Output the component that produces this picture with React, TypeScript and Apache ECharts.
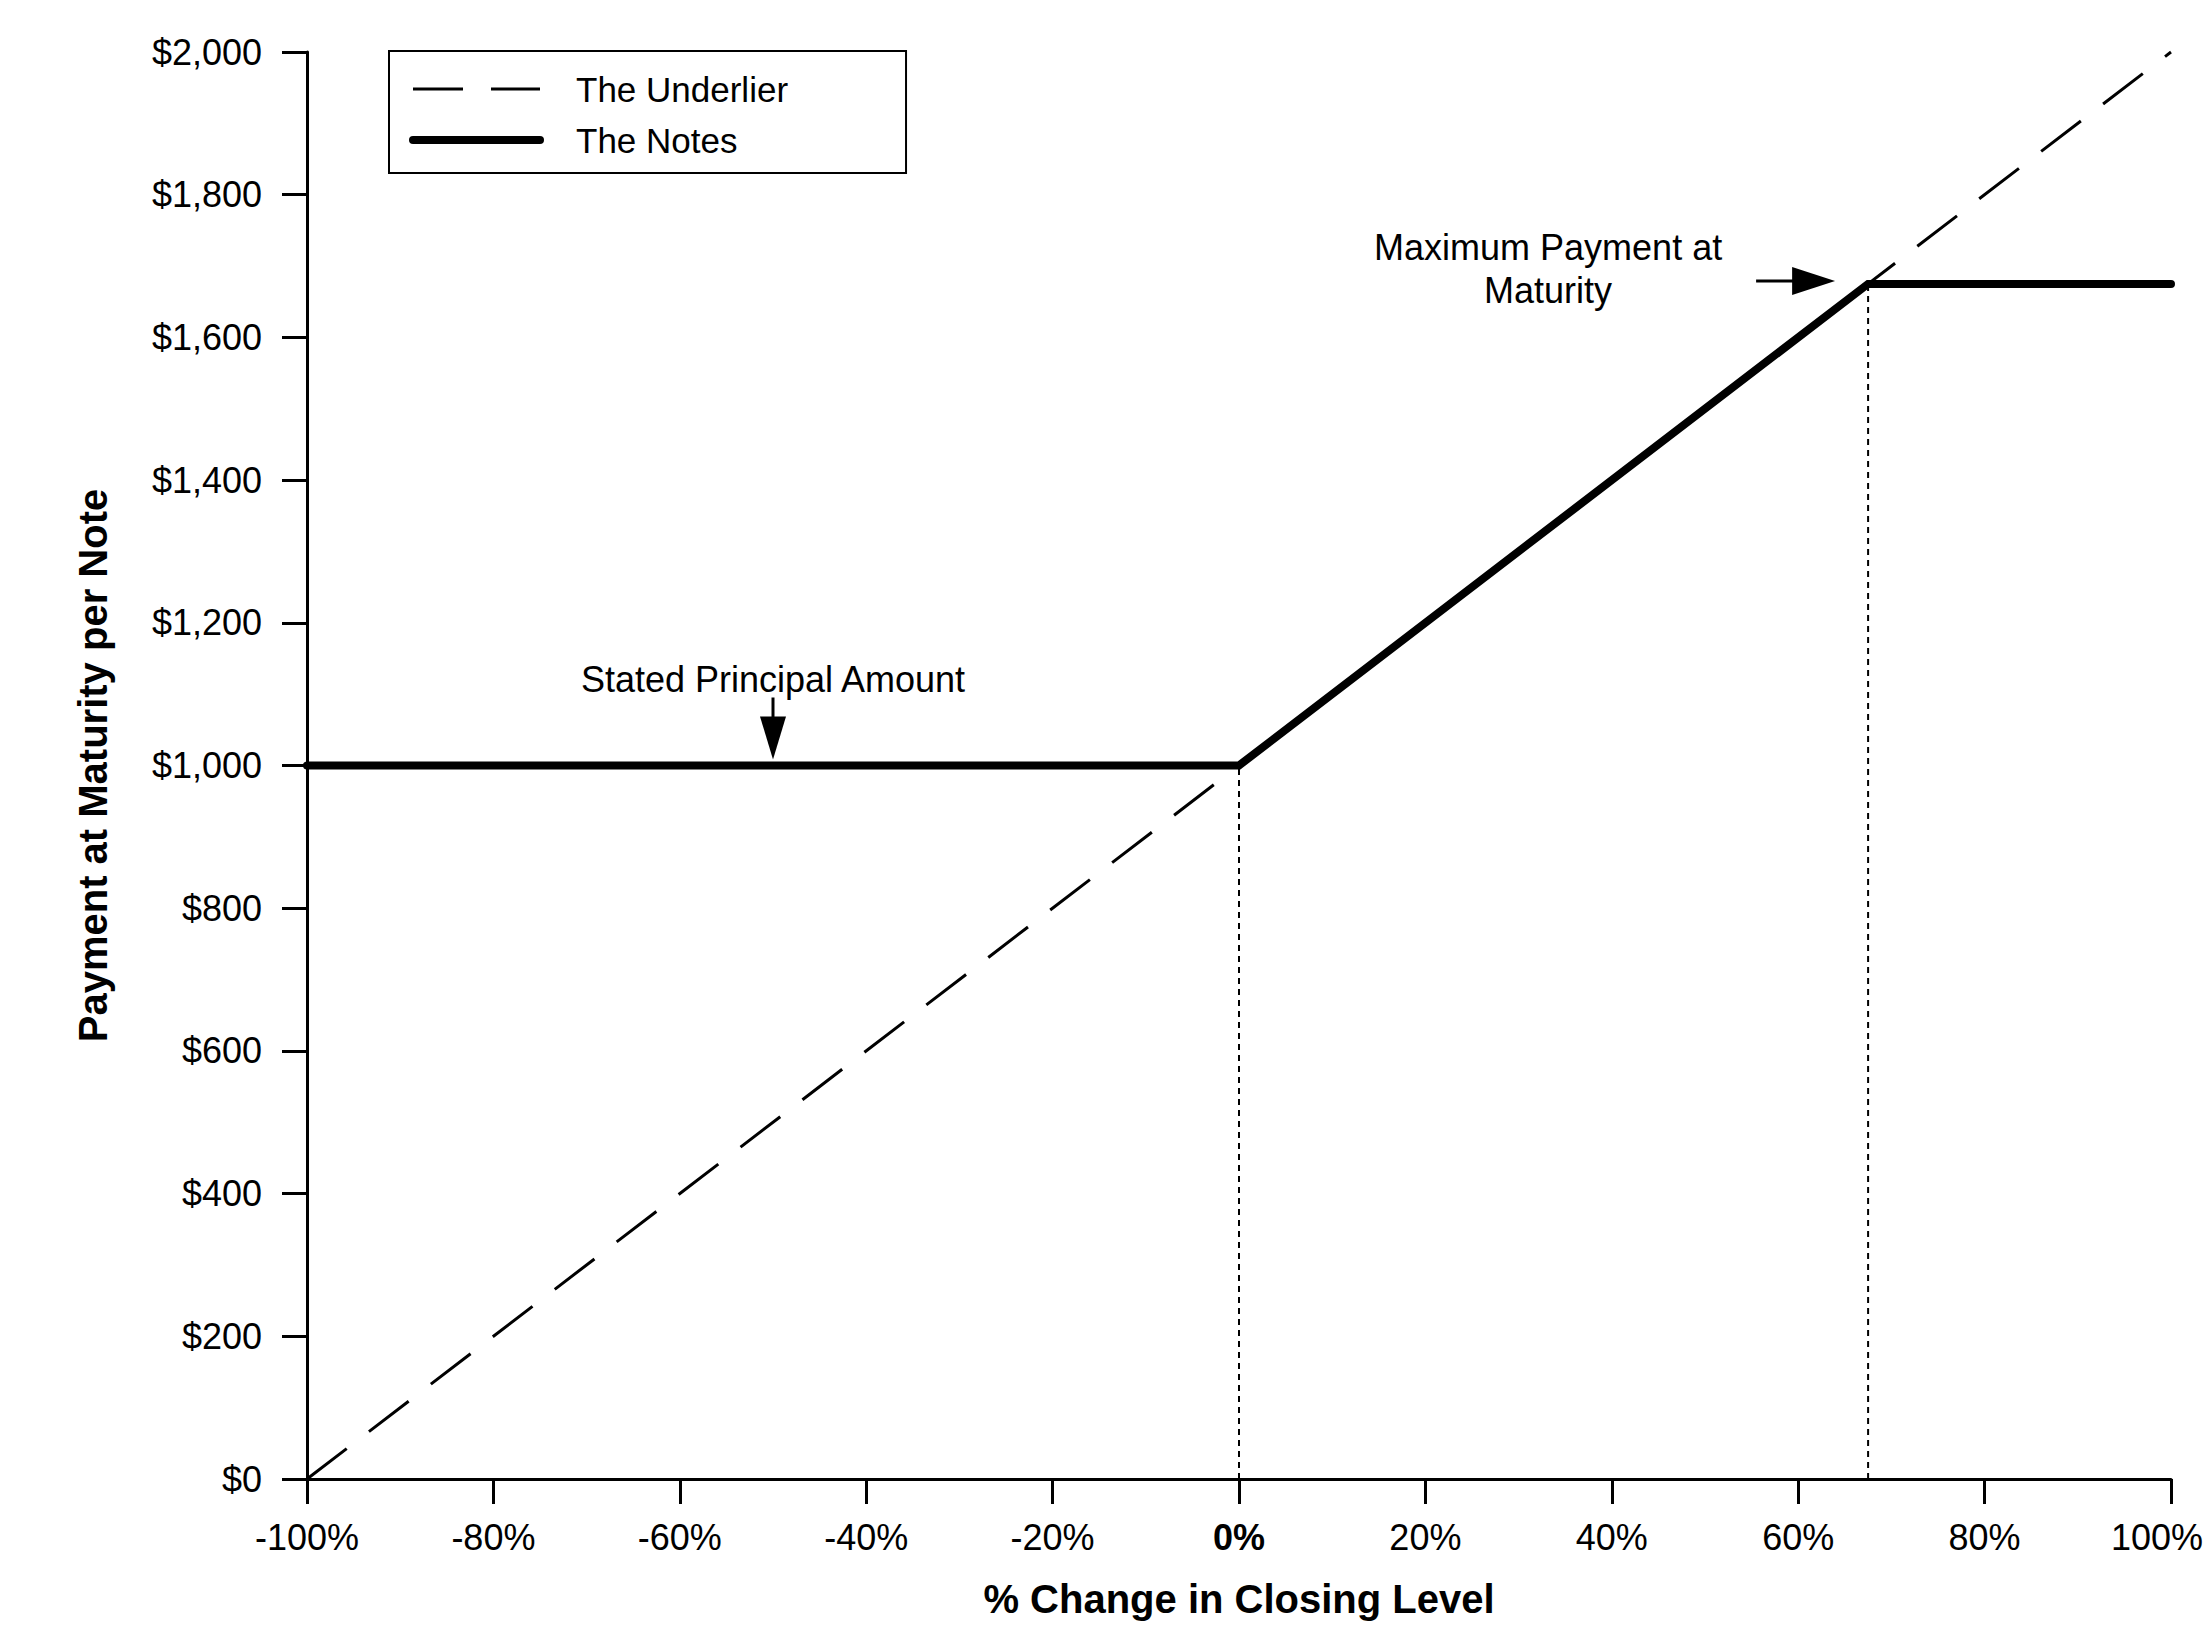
import React, { useEffect, useRef } from "react";
import * as echarts from "echarts";

const xTicks = [-100, -80, -60, -40, -20, 0, 20, 40, 60, 80, 100];
const xTickLabels = ["-100%", "-80%", "-60%", "-40%", "-20%", "0%", "20%", "40%", "60%", "80%", "100%"];
const yTicks = [0, 200, 400, 600, 800, 1000, 1200, 1400, 1600, 1800, 2000];
const yTickLabels = ["$0", "$200", "$400", "$600", "$800", "$1,000", "$1,200", "$1,400", "$1,600", "$1,800", "$2,000"];

const underlierX = [-100, 100];
const underlierY = [0, 2000];
const notesX = [-100, 0, 67.5, 100];
const notesY = [1000, 1000, 1675, 1675];

const seriesNames = ["The Underlier", "The Notes"];
const xAxisTitle = "% Change in Closing Level";
const yAxisTitle = "Payment at Maturity per Note";
const principalLabel = "Stated Principal Amount";
const principalPoint = [-50, 1000];
const maxLabel = "Maximum Payment at\nMaturity";

const FONT = "'Liberation Sans', Arial, Helvetica, sans-serif";

export default function App() {
  const ref = useRef<HTMLDivElement>(null);

  useEffect(() => {
    const chart = echarts.init(ref.current as HTMLDivElement, null, { renderer: "svg" });

    const xLabel = (v: number) => {
      const i = xTicks.indexOf(v);
      const s = i >= 0 ? xTickLabels[i] : "";
      if (v === 0) return `{b|${s}}`;
      if (i === xTicks.length - 1) return `{r|${s}}`;
      return s;
    };
    const yLabel = (v: number) => {
      const i = yTicks.indexOf(v);
      return i >= 0 ? yTickLabels[i] : "";
    };

    const hiddenSymbol = { color: "rgba(0,0,0,0)", borderWidth: 0, opacity: 0 };

    chart.setOption({
      animation: false,
      backgroundColor: "#fff",
      textStyle: { fontFamily: FONT },
      grid: { left: 307, top: 52, right: 40, bottom: 171, containLabel: false, outerBoundsMode: "none" },
      legend: {
        orient: "vertical",
        left: 389,
        top: 51,
        data: [
          { name: seriesNames[0], lineStyle: { width: 3 }, itemStyle: hiddenSymbol },
          { name: seriesNames[1], lineStyle: { width: 8 }, itemStyle: hiddenSymbol },
        ],
        itemWidth: 127,
        itemHeight: 14,
        itemGap: 11,
        padding: [18, 118, 13, 20],
        borderColor: "#000",
        borderWidth: 2,
        borderRadius: 0,
        selectedMode: false,
        textStyle: { fontSize: 35, color: "#000", fontFamily: FONT, lineHeight: 40, padding: [0, 0, 0, 31] },
      },
      xAxis: {
        type: "value",
        min: -100,
        max: 100,
        interval: 20,
        axisLine: { show: true, onZero: false, lineStyle: { color: "#000", width: 3 } },
        axisTick: { show: true, length: 25, lineStyle: { color: "#000", width: 3 } },
        splitLine: { show: false },
        axisLabel: {
          margin: 40,
          fontSize: 36,
          color: "#000",
          fontFamily: FONT,
          formatter: xLabel,
          rich: {
            b: { fontWeight: "bold", fontSize: 36, fontFamily: FONT, color: "#000" },
            r: { fontSize: 36, fontFamily: FONT, color: "#000", padding: [0, 28, 0, 0] },
          },
        },
        name: xAxisTitle,
        nameLocation: "middle",
        nameGap: 100,
        nameTextStyle: { fontSize: 40, fontWeight: "bold", color: "#000", fontFamily: FONT },
      },
      yAxis: {
        type: "value",
        min: 0,
        max: 2000,
        interval: 200,
        axisLine: { show: true, onZero: false, lineStyle: { color: "#000", width: 3 } },
        axisTick: { show: true, length: 25, lineStyle: { color: "#000", width: 3 } },
        splitLine: { show: false },
        axisLabel: { margin: 45, fontSize: 36, color: "#000", fontFamily: FONT, formatter: yLabel },
        name: yAxisTitle,
        nameLocation: "middle",
        nameRotate: 90,
        nameGap: 194,
        nameTextStyle: { fontSize: 40, fontWeight: "bold", color: "#000", fontFamily: FONT },
      },
      series: [
        {
          name: seriesNames[0],
          type: "line",
          data: underlierX.map((x, i) => [x, underlierY[i]]),
          symbol: "none",
          showSymbol: false,
          clip: false,
          silent: true,
          itemStyle: { color: "#000" },
          lineStyle: { color: "#000", width: 3, type: [50, 28] },
          z: 2,
        },
        {
          name: seriesNames[1],
          type: "line",
          data: notesX.map((x, i) => [x, notesY[i]]),
          symbol: "none",
          showSymbol: false,
          clip: false,
          silent: true,
          itemStyle: { color: "#000" },
          lineStyle: { color: "#000", width: 8, cap: "round", join: "miter" },
          z: 3,
        },
        {
          name: "guide-start",
          type: "line",
          data: [
            [notesX[1], 0],
            [notesX[1], notesY[1]],
          ],
          symbol: "none",
          silent: true,
          itemStyle: { color: "#000" },
          lineStyle: { color: "#000", width: 2, type: [6, 5] },
          z: 1,
        },
        {
          name: "guide-cap",
          type: "line",
          data: [
            [notesX[2], 0],
            [notesX[2], notesY[2]],
          ],
          symbol: "none",
          silent: true,
          itemStyle: { color: "#000" },
          lineStyle: { color: "#000", width: 2, type: [6, 5] },
          z: 1,
        },
      ],
    });

    const px = (p: number[]) => chart.convertToPixel({ gridIndex: 0 }, p) as number[];
    const tip1 = px(principalPoint);
    const t1x = tip1[0];
    const t1y = tip1[1] - 6;
    const cap = px([notesX[2], notesY[2]]);
    const t2x = cap[0] - 33;
    const t2y = cap[1] - 3;

    chart.setOption({
      graphic: [
        {
          type: "line",
          shape: { x1: t1x, y1: t1y - 62, x2: t1x, y2: t1y - 40 },
          style: { stroke: "#000", lineWidth: 3 },
        },
        {
          type: "polygon",
          shape: { points: [[t1x - 13, t1y - 43], [t1x + 13, t1y - 43], [t1x, t1y]] },
          style: { fill: "#000" },
        },
        {
          type: "text",
          x: t1x,
          y: t1y - 62,
          style: { text: principalLabel, fontSize: 36, fontFamily: FONT, fill: "#000", align: "center", verticalAlign: "bottom" },
        },
        {
          type: "line",
          shape: { x1: t2x - 79, y1: t2y, x2: t2x - 40, y2: t2y },
          style: { stroke: "#000", lineWidth: 3 },
        },
        {
          type: "polygon",
          shape: { points: [[t2x - 43, t2y - 14], [t2x - 43, t2y + 14], [t2x, t2y]] },
          style: { fill: "#000" },
        },
        {
          type: "text",
          x: cap[0] - 320,
          y: cap[1] - 15,
          style: {
            text: maxLabel,
            fontSize: 36,
            lineHeight: 43,
            fontFamily: FONT,
            fill: "#000",
            align: "center",
            verticalAlign: "middle",
          },
        },
      ],
    });

    return () => chart.dispose();
  }, []);

  return <div ref={ref} style={{ position: "absolute", left: 0, top: 0, width: 2211, height: 1650 }} />;
}
